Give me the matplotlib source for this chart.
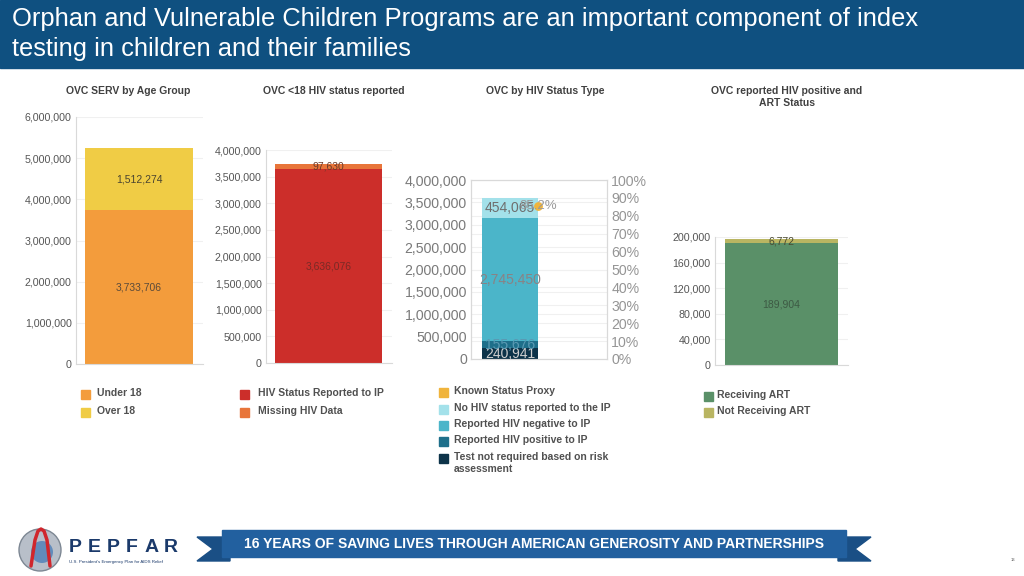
import numpy as np
import matplotlib.pyplot as plt
from matplotlib.patches import Rectangle, Polygon, Circle
from matplotlib.ticker import FuncFormatter

plt.rcParams['font.family'] = ['Liberation Sans', 'DejaVu Sans']

# ---- data ----
age_labels = ['Under 18', 'Over 18']
age_values = [3733706, 1512274]
age_colors = ['#f39c3c', '#f0cc45']

rep_labels = ['HIV Status Reported to IP', 'Missing HIV Data']
rep_values = [3636076, 97630]
rep_colors = ['#cc2e2a', '#e8753a']

status_labels = ['Known Status Proxy', 'No HIV status reported to the IP',
                 'Reported HIV negative to IP', 'Reported HIV positive to IP',
                 'Test not required based on risk\nassessment']
status_colors = ['#f0b43c', '#a3e1ea', '#4bb5c9', '#1e6f8a', '#0d3349']
# stack order bottom -> top: not required, positive, negative, no status
stack_values = [240941, 155676, 2745450, 454065]
stack_colors = ['#0d3349', '#1e6f8a', '#4bb5c9', '#a3e1ea']
stack_text = ['#d0d0d0', '#5a9ab3', '#8a8284', '#6e6e6e']
known_status_proxy = 0.852

art_labels = ['Receiving ART', 'Not Receiving ART']
art_values = [189904, 6772]
art_colors = ['#5a9068', '#b9b562']

title = ('Orphan and Vulnerable Children Programs are an important component of index\n'
         'testing in children and their families')
panel_titles = ['OVC SERV by Age Group', 'OVC <18 HIV status reported',
                'OVC by HIV Status Type', 'OVC reported HIV positive and\nART Status']
banner = '16 YEARS OF SAVING LIVES THROUGH AMERICAN GENEROSITY AND PARTNERSHIPS'

W, H = 1024, 576
fig = plt.figure(figsize=(W / 100, H / 100), dpi=100)


def box(x0, y0, x1, y1):
    return [x0 / W, 1 - y1 / H, (x1 - x0) / W, (y1 - y0) / H]


bg = fig.add_axes([0, 0, 1, 1], zorder=0)
bg.set_xlim(0, W)
bg.set_ylim(H, 0)
bg.axis('off')

comma = FuncFormatter(lambda v, p: f'{int(v):,}')


def style(ax, ymax, step, size=7.7, color='#555555', frame=False):
    ax.set_ylim(0, ymax)
    ax.set_yticks(np.arange(0, ymax + 1, step))
    ax.yaxis.set_major_formatter(comma)
    ax.set_xticks([])
    for s in ['top', 'right']:
        ax.spines[s].set_visible(frame)
    for s in ax.spines.values():
        s.set_color('#d9d9d9')
        s.set_linewidth(0.8)
    ax.tick_params(axis='y', length=0, labelsize=size, labelcolor=color, pad=3)
    ax.grid(axis='y', color='#f0f0f0', lw=0.8)
    ax.set_axisbelow(True)
    ax.patch.set_alpha(0)


def stacked(ax, values, colors, txtcolors, size, width=0.8):
    bottom = 0
    for v, c, tc in zip(values, colors, txtcolors):
        ax.bar(0, v, width, bottom=bottom, color=c, zorder=2)
        ax.text(0, bottom + v / 2, f'{v:,}', ha='center', va='center',
                fontsize=size, color=tc, zorder=3)
        bottom += v


# panel 1
ax1 = fig.add_axes(box(76, 117, 203, 364), zorder=1)
stacked(ax1, age_values, age_colors, ['#5a4a3a', '#4a4430'], 7.5)
ax1.set_xlim(-0.467, 0.474)
style(ax1, 6000000, 1000000)

# panel 2
ax2 = fig.add_axes(box(266, 150, 392, 363), zorder=1)
stacked(ax2, rep_values, rep_colors, ['#7a2a26', '#6a3a2a'], 7.5)
ax2.set_xlim(-0.467, 0.474)
style(ax2, 4000000, 500000)

# panel 3
ax3 = fig.add_axes(box(471, 180, 607, 359), zorder=1)
stacked(ax3, stack_values, stack_colors, stack_text, 10)
ax3.set_xlim(-0.557, 1.386)
style(ax3, 4000000, 500000, size=10.2, color='#7a7a7a', frame=True)
pct_ticks = np.arange(0, 1.01, 0.1)
for p in pct_ticks:
    ax3.axhline(p * 4000000, color='#f0f0f0', lw=0.8, zorder=0.5)
ax3r = ax3.twinx()
ax3r.set_ylim(0, 1)
ax3r.set_yticks(pct_ticks)
ax3r.yaxis.set_major_formatter(FuncFormatter(lambda v, p: f'{v:.0%}'))
ax3r.tick_params(axis='y', length=0, labelsize=10.2, labelcolor='#959595', pad=3)
for s in ax3r.spines.values():
    s.set_color('#d9d9d9')
    s.set_linewidth(0.8)
ax3r.scatter([0.4], [known_status_proxy], s=28, color=status_colors[0], zorder=4)
ax3r.text(0.4, known_status_proxy, f'{known_status_proxy:.1%}', ha='center',
          va='center', fontsize=9.5, color='#9a9a9a', zorder=5)

# panel 4
ax4 = fig.add_axes(box(715, 237, 848, 365), zorder=1)
stacked(ax4, art_values, art_colors, ['#3d5a44', '#4a4a30'], 7.5)
ax4.set_xlim(-0.47, 0.47)
style(ax4, 200000, 40000)

# panel titles
for (x, y), t in zip([(128, 91), (334, 91), (545, 91), (787, 97)], panel_titles):
    bg.text(x, y, t, ha='center', va='center', fontsize=7.5, fontweight='bold',
            color='#404040', linespacing=1.25)

# legends
legends = [
    (81, 97, [394, 412], age_labels, age_colors),
    (240, 258, [394, 412], rep_labels, rep_colors),
    (439, 454, [392, 409, 425, 441, 458], status_labels, status_colors),
    (704, 717, [396, 412], art_labels, art_colors),
]
for xs, xt, ys, labels, colors in legends:
    for y, lab, c in zip(ys, labels, colors):
        bg.add_patch(Rectangle((xs, y - 4.5), 9, 9, color=c))
        bg.text(xt, y - 6, lab, ha='left', va='top', fontsize=7.5,
                fontweight='bold', color='#505050', linespacing=1.2)

# header
bg.add_patch(Rectangle((0, 0), W, 68, color='#0f5080'))
bg.text(12, 7, title, ha='left', va='top', fontsize=18.4, color='white',
        linespacing=1.3)

# footer banner
bg.add_patch(Polygon([(197, 537), (230, 537), (230, 561), (197, 561), (213, 549)],
                     closed=True, color='#1a4f85'))
bg.add_patch(Polygon([(838, 537), (871, 537), (855, 549), (871, 561), (838, 561)],
                     closed=True, color='#1a4f85'))
bg.add_patch(Rectangle((222, 530), 624, 27, color='#22609f'))
bg.text(534, 543.5, banner, ha='center', va='center', fontsize=10, fontweight='bold',
        color='white')

# PEPFAR logo
bg.add_patch(Circle((40, 550), 21, facecolor='#b8bfc9', edgecolor='#7d8793', lw=1))
bg.add_patch(Circle((42, 552), 11, facecolor='#4d7fb8', edgecolor='none', alpha=0.8))
bg.plot([31, 35, 38, 41, 44, 47, 50], [566, 540, 531, 529, 531, 540, 566],
        color='#d0262c', lw=2.5, solid_capstyle='round')
for i, ch in enumerate('PEPFAR'):
    bg.text(69 + i * 19, 548, ch, ha='left', va='center', fontsize=14,
            fontweight='bold', color='#1b3a6b')
bg.text(69, 562, "U.S. President's Emergency Plan for AIDS Relief", ha='left',
        va='center', fontsize=3.2, color='#1b3a6b')
bg.text(1013, 560, '13', ha='center', va='center', fontsize=3, color='#555555')

fig.savefig('out.png', dpi=100)
